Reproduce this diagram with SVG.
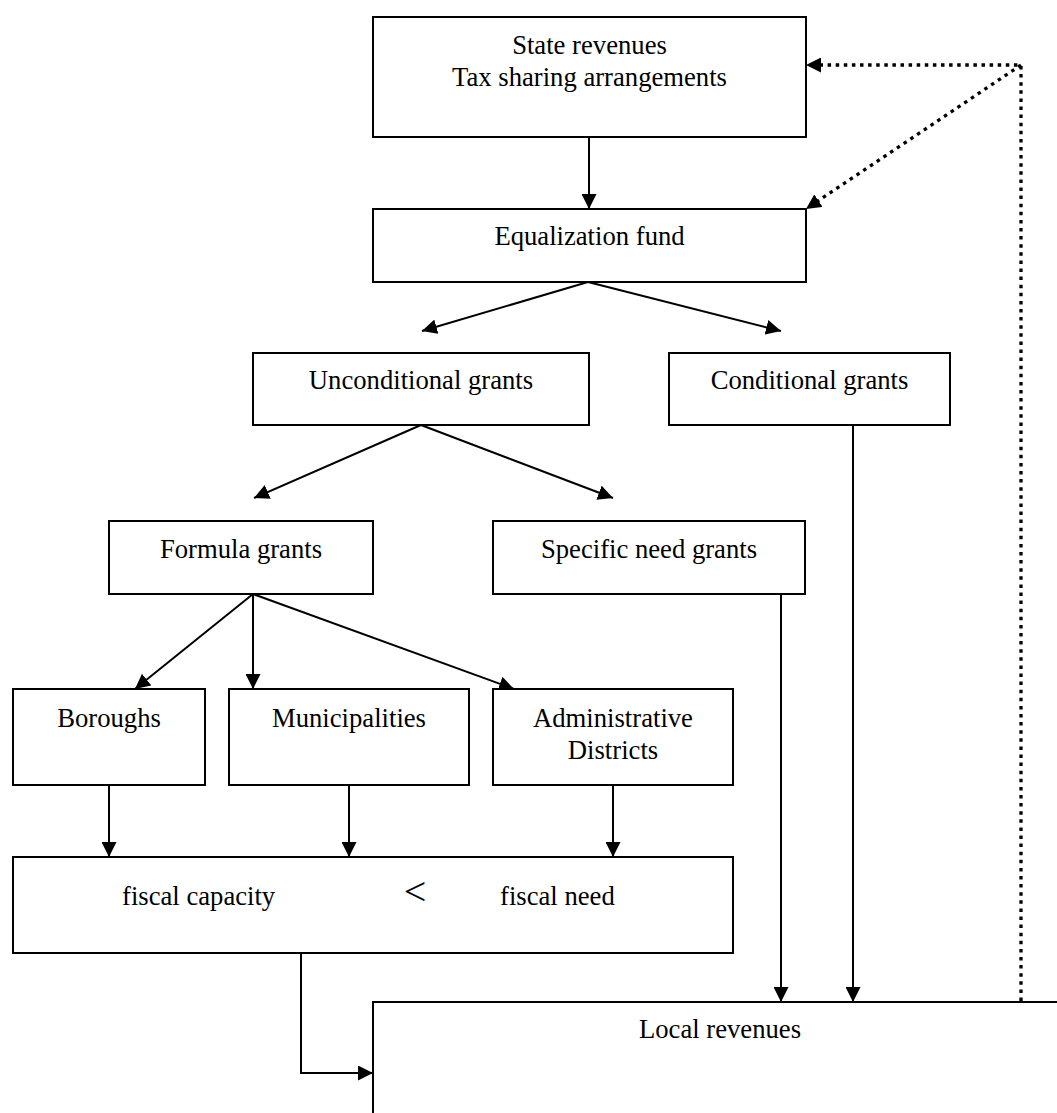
<svg xmlns="http://www.w3.org/2000/svg" width="1057" height="1113" viewBox="0 0 1057 1113">
<style>
.box{fill:#fff;stroke:#000;stroke-width:2}
.t{font-family:"Liberation Serif","Times New Roman",serif;font-size:26.67px;fill:#000;text-anchor:middle}
.ts{font-family:"Liberation Serif","Times New Roman",serif;font-size:26.67px;fill:#000}
.c{fill:none;stroke:#000;stroke-width:2}
.d{fill:none;stroke:#000;stroke-width:3.3;stroke-dasharray:3.5 4.6}
</style>
<defs>
<marker id="ah" markerUnits="userSpaceOnUse" markerWidth="15" markerHeight="15" refX="15" refY="7.5" orient="auto" viewBox="0 0 15 15">
<path d="M0,0 L15,7.5 L0,15 z" fill="#000"/>
</marker>
</defs>
<rect width="1057" height="1113" fill="#fff"/>
<g id="connectors">
<line class="c" x1="589" y1="137" x2="589" y2="209" marker-end="url(#ah)"/>
<line class="c" x1="588" y1="282" x2="422" y2="331" marker-end="url(#ah)"/>
<line class="c" x1="588" y1="282" x2="781" y2="331" marker-end="url(#ah)"/>
<line class="c" x1="421" y1="425" x2="254" y2="498" marker-end="url(#ah)"/>
<line class="c" x1="421" y1="425" x2="613" y2="498" marker-end="url(#ah)"/>
<line class="c" x1="253" y1="594" x2="135" y2="689" marker-end="url(#ah)"/>
<line class="c" x1="253" y1="594" x2="253" y2="689" marker-end="url(#ah)"/>
<line class="c" x1="253" y1="594" x2="514" y2="689" marker-end="url(#ah)"/>
<line class="c" x1="109" y1="785" x2="109" y2="857" marker-end="url(#ah)"/>
<line class="c" x1="349" y1="785" x2="349" y2="857" marker-end="url(#ah)"/>
<line class="c" x1="613" y1="785" x2="613" y2="857" marker-end="url(#ah)"/>
<polyline class="c" points="301,953 301,1073 373,1073" marker-end="url(#ah)"/>
<line class="c" x1="781" y1="594" x2="781" y2="1002" marker-end="url(#ah)"/>
<line class="c" x1="853" y1="425" x2="853" y2="1002" marker-end="url(#ah)"/>
<polyline class="d" points="1021,1001 1021,65 806,65" marker-end="url(#ah)"/>
<line class="d" x1="1021" y1="65" x2="806" y2="209" marker-end="url(#ah)"/>
</g>
<g id="state-revenues">
<rect class="box" x="373" y="17" width="433" height="120"/>
<text class="t" x="589.5" y="53.5">State revenues</text>
<text class="t" x="589.5" y="86">Tax sharing arrangements</text>
</g>
<g id="equalization-fund">
<rect class="box" x="373" y="209" width="433" height="73"/>
<text class="t" x="589.5" y="245">Equalization fund</text>
</g>
<g id="unconditional-grants">
<rect class="box" x="253" y="353" width="336" height="72"/>
<text class="t" x="421" y="389">Unconditional grants</text>
</g>
<g id="conditional-grants">
<rect class="box" x="669" y="353" width="281" height="72"/>
<text class="t" x="809.5" y="389">Conditional grants</text>
</g>
<g id="formula-grants">
<rect class="box" x="109" y="521" width="264" height="73"/>
<text class="t" x="241" y="558">Formula grants</text>
</g>
<g id="specific-need-grants">
<rect class="box" x="493" y="521" width="312" height="73"/>
<text class="t" x="649" y="558">Specific need grants</text>
</g>
<g id="boroughs">
<rect class="box" x="13" y="689" width="192" height="96"/>
<text class="t" x="109" y="727">Boroughs</text>
</g>
<g id="municipalities">
<rect class="box" x="229" y="689" width="240" height="96"/>
<text class="t" x="349" y="727">Municipalities</text>
</g>
<g id="administrative-districts">
<rect class="box" x="493" y="689" width="240" height="96"/>
<text class="t" x="613" y="727">Administrative</text>
<text class="t" x="613" y="759">Districts</text>
</g>
<g id="fiscal">
<rect class="box" x="13" y="857" width="720" height="96"/>
<text class="ts" x="122" y="905">fiscal capacity</text>
<text class="t" x="415" y="905" style="font-size:40px">&lt;</text>
<text class="ts" x="500" y="905">fiscal need</text>
</g>
<g id="local-revenues">
<rect class="box" x="373" y="1002" width="700" height="200"/>
<text class="t" x="720" y="1038">Local revenues</text>
</g>
</svg>
